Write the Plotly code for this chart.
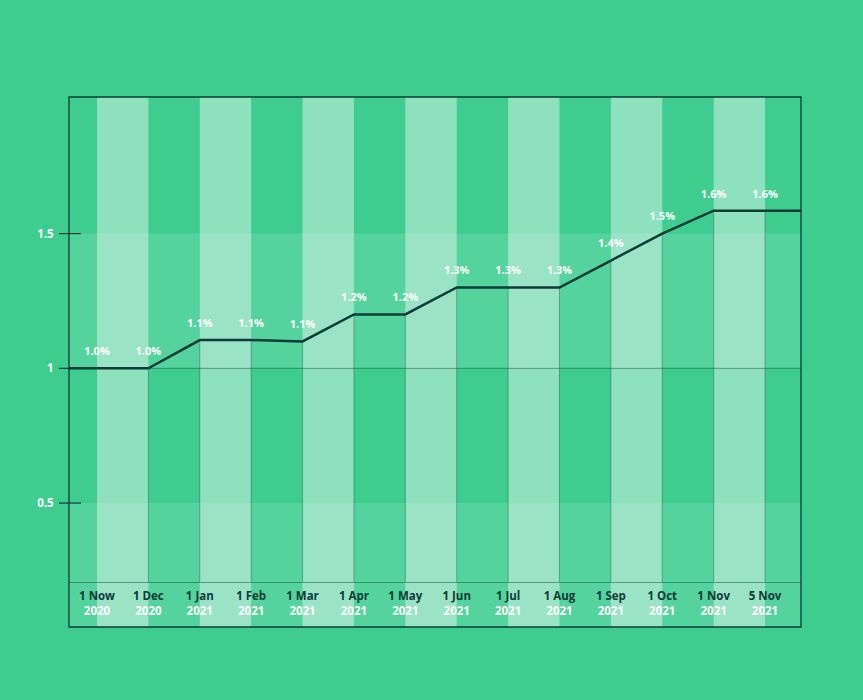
import plotly.graph_objects as go

# ---- data ----
months = ["1 Now", "1 Dec", "1 Jan", "1 Feb", "1 Mar", "1 Apr", "1 May",
          "1 Jun", "1 Jul", "1 Aug", "1 Sep", "1 Oct", "1 Nov", "5 Nov"]
years = ["2020", "2020", "2021", "2021", "2021", "2021", "2021",
         "2021", "2021", "2021", "2021", "2021", "2021", "2021"]
rates = [1.0, 1.0, 1.105, 1.105, 1.1, 1.2, 1.2, 1.3, 1.3, 1.3, 1.4, 1.5, 1.585, 1.585]
y_ticks = [0.5, 1, 1.5]
y_tick_labels = ["0.5", "1", "1.5"]

# ---- styling ----
BG = "#3ECD8F"
DARK = "#0C3B39"
FONT = "Open Sans"
X_RANGE = [-0.545, 13.70]
Y_RANGE = [0.207, 2.007]
FRAME_BOTTOM = -45 / 485  # frame extends below the axis (paper units)

idx = list(range(len(months)))


def ypaper(v):
    return (v - Y_RANGE[0]) / (Y_RANGE[1] - Y_RANGE[0])


shapes = []
# vertical light stripes between consecutive categories
for i in range(0, len(idx) - 1, 2):
    shapes.append(dict(type="rect", xref="x", yref="paper", x0=idx[i], x1=idx[i + 1],
                       y0=FRAME_BOTTOM, y1=1, fillcolor="rgba(255,255,255,0.41)",
                       line_width=0, layer="below"))
# horizontal lighter bands
shapes.append(dict(type="rect", xref="paper", yref="paper", x0=0, x1=1,
                   y0=ypaper(1.0), y1=ypaper(1.5), fillcolor="rgba(255,255,255,0.12)",
                   line_width=0, layer="below"))
shapes.append(dict(type="rect", xref="paper", yref="paper", x0=0, x1=1,
                   y0=FRAME_BOTTOM, y1=ypaper(0.5), fillcolor="rgba(255,255,255,0.12)",
                   line_width=0, layer="below"))
# reference line at 1
shapes.append(dict(type="line", xref="paper", yref="y", x0=0, x1=1, y0=1, y1=1,
                   line=dict(color="rgba(12,59,57,0.45)", width=1), layer="below"))
# drop lines from each point to the axis
for i in idx[1:]:
    shapes.append(dict(type="line", xref="x", yref="paper", x0=i, x1=i,
                       y0=0, y1=ypaper(rates[i]),
                       line=dict(color="rgba(12,59,57,0.35)", width=1), layer="below"))
# tick marks crossing the left frame
for v in y_ticks:
    shapes.append(dict(type="line", xref="paper", yref="y", x0=-10 / 732, x1=12 / 732,
                       y0=v, y1=v, line=dict(color=DARK, width=1.2), layer="above"))
# frame
shapes.append(dict(type="rect", xref="paper", yref="paper", x0=0, x1=1,
                   y0=FRAME_BOTTOM, y1=1, line=dict(color=DARK, width=1.3),
                   fillcolor="rgba(0,0,0,0)", layer="above"))

fig = go.Figure()
fig.add_trace(go.Scatter(
    x=[X_RANGE[0]] + idx + [X_RANGE[1]],
    y=[rates[0]] + rates + [rates[-1]],
    mode="lines", line=dict(color=DARK, width=2.5), hoverinfo="skip",
    cliponaxis=False,
))
fig.add_trace(go.Scatter(
    x=idx, y=rates, mode="markers+text",
    marker=dict(size=15, opacity=0),
    text=[f"{v:.1f}%" for v in rates], textposition="top center",
    textfont=dict(family=FONT, size=11, color="white", weight=700),
    hoverinfo="skip",
))

ticktext = [f"<span style='color:{DARK}'>{m}</span><br>{y}" for m, y in zip(months, years)]

fig.update_layout(
    width=863, height=700,
    paper_bgcolor=BG, plot_bgcolor=BG,
    margin=dict(l=69, r=62, t=97, b=118, autoexpand=False),
    showlegend=False,
    shapes=shapes,
    font=dict(family=FONT, color="white", size=11.5, weight=700),
    xaxis=dict(range=X_RANGE, tickvals=idx, ticktext=ticktext, showgrid=False,
               zeroline=False, showline=True, linecolor="rgba(12,59,57,0.45)",
               linewidth=1, ticks="", ticklabelstandoff=3,
               tickfont=dict(family=FONT, size=11.5, color="white", weight=700)),
    yaxis=dict(range=Y_RANGE, tickvals=y_ticks, ticktext=y_tick_labels, showgrid=False,
               zeroline=False, showline=False, ticks="outside", ticklen=10,
               tickcolor="rgba(0,0,0,0)", ticklabelstandoff=2,
               tickfont=dict(family=FONT, size=11.5, color="white", weight=700)),
)

fig.write_html(
    "out.html",
    config={"displayModeBar": False},
    post_script="document.body.style.margin='0';document.body.style.background='" + BG + "';",
)
